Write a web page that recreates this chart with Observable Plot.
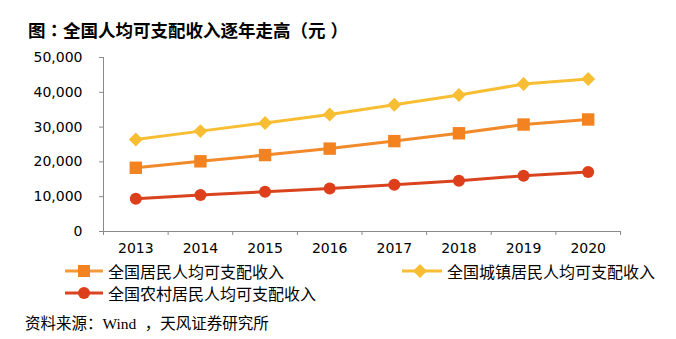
<!DOCTYPE html>
<html lang="zh-CN"><head><meta charset="utf-8">
<script src="https://cdn.jsdelivr.net/npm/d3@7"></script>
<script src="https://cdn.jsdelivr.net/npm/@observablehq/plot@0.6"></script>
<style>
body{margin:0;background:#fff;width:676px;height:339px;position:relative;overflow:hidden;font-family:"Noto Sans CJK SC","Noto Sans",sans-serif;color:#000}
#title{position:absolute;left:28px;top:19px;font-size:17.5px;line-height:22px;font-weight:bold;white-space:nowrap}
#chart{position:absolute;left:0;top:44px}
.leg{position:absolute;display:flex;align-items:center;font-size:16px;line-height:20px;white-space:nowrap}
.leg svg{margin-right:5px}
#source{position:absolute;left:25px;top:311px;font-size:15.5px;line-height:22px;white-space:nowrap}
#source .w{font-family:"Liberation Serif",serif}
.pc{display:inline-block;width:1em;text-align:center}
.tc{font-family:"Noto Sans CJK TC",sans-serif}
</style></head>
<body>
<div id="title">图<span class="pc tc">：</span>全国人均可支配收入逐年走高<span class="pc tc" style="text-align:left">（</span>元<span class="pc tc" style="text-indent:5px">）</span></div>
<div id="chart"></div>
<div class="leg" style="left:65px;top:261px"><svg width="38" height="16"><line x1="0" y1="8" x2="38" y2="8" stroke="#F39A3A" stroke-width="3"/><rect x="13" y="2" width="12" height="12" fill="#F38220"/></svg>全国居民人均可支配收入</div>
<div class="leg" style="left:402px;top:261px"><svg width="40" height="16"><line x1="0" y1="8" x2="40" y2="8" stroke="#F7BE34" stroke-width="3"/><path d="M18,1 L25,8 L18,15 L11,8Z" fill="#F7BE34"/></svg>全国城镇居民人均可支配收入</div>
<div class="leg" style="left:65px;top:283px"><svg width="38" height="16"><line x1="0" y1="8" x2="38" y2="8" stroke="#D9441E" stroke-width="3"/><circle cx="19" cy="8" r="6" fill="#DC3F1A"/></svg>全国农村居民人均可支配收入</div>
<div id="source">资料来源<span class="pc">：</span><span class="w">Wind</span><span style="display:inline-block;width:24px;text-align:right">，</span>天风证券研究所</div>
<script>
const years = [2013, 2014, 2015, 2016, 2017, 2018, 2019, 2020];
const national = [18311, 20167, 21966, 23821, 25974, 28228, 30733, 32189];
const urban = [26467, 28844, 31195, 33616, 36396, 39251, 42359, 43834];
const rural = [9430, 10489, 11422, 12363, 13432, 14617, 16021, 17131];
const yTicks = [0, 10000, 20000, 30000, 40000, 50000];
const seriesNames = ["全国居民人均可支配收入", "全国城镇居民人均可支配收入", "全国农村居民人均可支配收入"];

const rows = years.flatMap((yr, i) => [
  {year: yr, value: national[i], s: seriesNames[0]},
  {year: yr, value: urban[i], s: seriesNames[1]},
  {year: yr, value: rural[i], s: seriesNames[2]}
]);
const bounds = [years[0] - 0.5, ...years.map(y => y + 0.5)];
const axisColor = "#8a8a8a";

const chart = Plot.plot({
  width: 676, height: 218,
  marginLeft: 103, marginRight: 56, marginTop: 13, marginBottom: 31,
  x: {type: "linear", domain: [years[0] - 0.5, years[years.length - 1] + 0.5]},
  y: {domain: [0, 50000]},
  style: {fontFamily: "DejaVu Sans", fontSize: "14px", color: "#000", background: "transparent"},
  marks: [
    Plot.axisY({ticks: yTicks, tickSize: 4, tickPadding: 17, tickFormat: d3.format(","), stroke: axisColor, label: null}),
    Plot.axisX({ticks: years, tickSize: 0, tickPadding: 12, tickFormat: d => String(d), label: null}),
    Plot.axisX({ticks: bounds, tickSize: 4, tickFormat: () => "", stroke: axisColor, label: null}),
    Plot.ruleX([years[0] - 0.5], {stroke: axisColor}),
    Plot.ruleY([0], {stroke: axisColor}),
    Plot.line(rows.filter(d => d.s === seriesNames[1]), {x: "year", y: "value", stroke: "#F7BE34", strokeWidth: 3}),
    Plot.line(rows.filter(d => d.s === seriesNames[0]), {x: "year", y: "value", stroke: "#F08A2A", strokeWidth: 3}),
    Plot.line(rows.filter(d => d.s === seriesNames[2]), {x: "year", y: "value", stroke: "#D9441E", strokeWidth: 3}),
    Plot.dot(rows.filter(d => d.s === seriesNames[1]), {x: "year", y: "value", symbol: "diamond2", r: 6.3, fill: "#F7BE34"}),
    Plot.dot(rows.filter(d => d.s === seriesNames[0]), {x: "year", y: "value", symbol: "square", r: 7, fill: "#F38220"}),
    Plot.dot(rows.filter(d => d.s === seriesNames[2]), {x: "year", y: "value", symbol: "circle", r: 6, fill: "#DC3F1A"})
  ]
});
document.getElementById("chart").appendChild(chart);
</script>
</body></html>
